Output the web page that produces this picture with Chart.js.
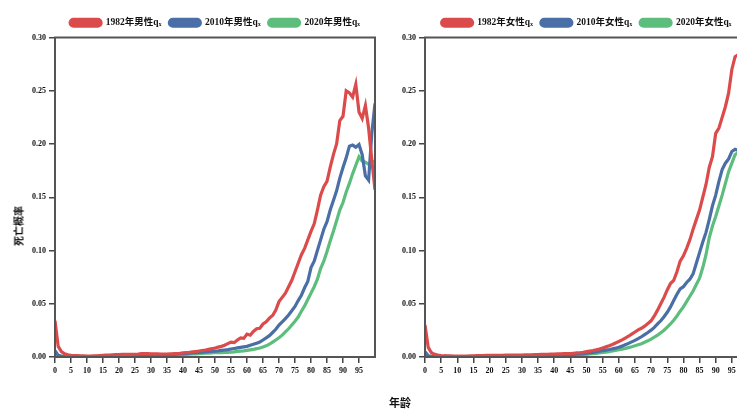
<!DOCTYPE html>
<html><head><meta charset="utf-8">
<script src="https://cdn.jsdelivr.net/npm/chart.js@4"></script>
<style>
html,body{margin:0;padding:0;width:737px;height:410px;overflow:hidden;background:#fff;}
#w1{position:absolute;left:0;top:0;width:385px;height:410px;}
#w2{position:absolute;left:380px;top:0;width:430px;height:410px;}
.ytitle{position:absolute;left:18px;top:226px;transform:translate(-50%,-50%) rotate(-90deg);font:bold 10px 'Noto Sans CJK SC';color:#111;white-space:nowrap;}
.xtitle{position:absolute;left:400px;top:402px;transform:translate(-50%,-50%);font:bold 11px 'Noto Sans CJK SC';color:#111;white-space:nowrap;}
</style></head>
<body>
<div id="w1"><canvas id="c1"></canvas></div>
<div id="w2"><canvas id="c2"></canvas></div>
<div class="ytitle">死亡概率</div>
<div class="xtitle">年龄</div>
<script>
const ages = [0,1,2,3,4,5,6,7,8,9,10,11,12,13,14,15,16,17,18,19,20,21,22,23,24,25,26,27,28,29,30,31,32,33,34,35,36,37,38,39,40,41,42,43,44,45,46,47,48,49,50,51,52,53,54,55,56,57,58,59,60,61,62,63,64,65,66,67,68,69,70,71,72,73,74,75,76,77,78,79,80,81,82,83,84,85,86,87,88,89,90,91,92,93,94,95,96,97,98,99,100];
const xTicks = [0,5,10,15,20,25,30,35,40,45,50,55,60,65,70,75,80,85,90,95];
const yTicks = [0,0.05,0.10,0.15,0.20,0.25,0.30];

const male1982 = [0.034,0.010,0.005,0.003,0.002,
0.0015,0.0013,0.0012,0.0011,0.0010,
0.0009,0.0009,0.0010,0.0011,0.0013,
0.0015,0.0017,0.0019,0.0021,0.0022,
0.0023,0.0024,0.0024,0.0025,0.0025,
0.0026,0.0028,0.0031,0.0032,0.0031,
0.0030,0.0030,0.0029,0.0027,0.0027,
0.0028,0.0030,0.0031,0.0033,0.0035,
0.0038,0.0041,0.0044,0.0048,0.0052,
0.0056,0.0061,0.0066,0.0072,0.0078,
0.0085,0.0093,0.0100,0.0110,0.0125,
0.0140,0.0135,0.0160,0.0180,0.0175,
0.0215,0.0205,0.0240,0.0265,0.0270,
0.0310,0.0330,0.0365,0.0390,0.0440,
0.052,0.056,0.060,0.066,0.072,
0.080,0.088,0.096,0.102,0.110,
0.118,0.125,0.138,0.152,0.160,
0.165,0.178,0.190,0.200,0.222,
0.226,0.250,0.248,0.244,0.256,
0.230,0.224,0.236,0.215,0.185,0.157];

const male2010 = [0.006,0.0015,0.0008,0.0006,0.0005,
0.0004,0.0004,0.0004,0.0004,0.0004,
0.0004,0.0004,0.0004,0.0005,0.0006,
0.0008,0.0009,0.0010,0.0011,0.0012,
0.0012,0.0012,0.0012,0.0012,0.0012,
0.0012,0.0013,0.0013,0.0014,0.0015,
0.0016,0.0017,0.0018,0.0019,0.0020,
0.0021,0.0023,0.0025,0.0027,0.0029,
0.0031,0.0033,0.0035,0.0038,0.0041,
0.0044,0.0046,0.0048,0.0050,0.0052,
0.0055,0.0058,0.0062,0.0066,0.0070,
0.0075,0.0080,0.0085,0.0090,0.0095,
0.0100,0.0110,0.0120,0.0130,0.0140,
0.0160,0.0180,0.0200,0.0230,0.0260,
0.0300,0.0330,0.0360,0.0395,0.0435,
0.0475,0.0530,0.0580,0.0650,0.0710,
0.0840,0.0900,0.1000,0.1100,0.1200,
0.1270,0.1380,0.1470,0.1560,0.1680,
0.1780,0.1870,0.1980,0.1990,0.1970,
0.1995,0.1900,0.1700,0.1660,0.2100,0.2380];

const male2020 = [0.003,0.0008,0.0005,0.0004,0.0003,
0.0003,0.0003,0.0003,0.0003,0.0003,
0.0003,0.0003,0.0003,0.0004,0.0005,
0.0006,0.0007,0.0008,0.0008,0.0009,
0.0009,0.0009,0.0009,0.0010,0.0010,
0.0010,0.0011,0.0011,0.0012,0.0012,
0.0013,0.0014,0.0014,0.0015,0.0016,
0.0017,0.0018,0.0019,0.0020,0.0021,
0.0023,0.0024,0.0026,0.0028,0.0030,
0.0031,0.0033,0.0035,0.0037,0.0039,
0.0040,0.0041,0.0042,0.0043,0.0044,
0.0045,0.0048,0.0052,0.0055,0.0058,
0.0062,0.0067,0.0072,0.0078,0.0085,
0.0093,0.0105,0.0120,0.0140,0.0160,
0.0180,0.0205,0.0235,0.0265,0.0300,
0.0335,0.0375,0.0430,0.0480,0.0540,
0.0600,0.0660,0.0730,0.0830,0.0900,
0.0990,0.1090,0.1180,0.1280,0.1380,
0.1450,0.1550,0.1630,0.1720,0.1800,
0.1880,0.1840,0.1830,0.1810,0.1840,0.1830];

const female1982 = [0.030,0.009,0.004,0.0025,0.0018,
0.0014,0.0012,0.0011,0.0010,0.0009,
0.0008,0.0008,0.0008,0.0009,0.0010,
0.0011,0.0012,0.0013,0.0014,0.0015,
0.0016,0.0016,0.0016,0.0016,0.0016,
0.0017,0.0017,0.0018,0.0018,0.0019,
0.0019,0.0020,0.0020,0.0021,0.0022,
0.0023,0.0024,0.0025,0.0026,0.0027,
0.0028,0.0029,0.0030,0.0031,0.0031,
0.0032,0.0035,0.0038,0.0040,0.0044,
0.0050,0.0055,0.0060,0.0067,0.0075,
0.0085,0.0095,0.0105,0.0118,0.0132,
0.0145,0.0160,0.0178,0.0195,0.0215,
0.0235,0.0255,0.0270,0.0290,0.0315,
0.0340,0.0385,0.0440,0.0500,0.0560,
0.0630,0.0690,0.0720,0.0800,0.0900,
0.0950,0.1020,0.1100,0.1200,0.1290,
0.1380,0.1500,0.1620,0.1780,0.1880,
0.2100,0.2150,0.2250,0.2350,0.2480,
0.2700,0.2820,0.2840,0.2800,0.2750,0.2700];

const female2010 = [0.005,0.0012,0.0007,0.0005,0.0004,
0.0003,0.0003,0.0003,0.0003,0.0003,
0.0003,0.0003,0.0003,0.0003,0.0004,
0.0004,0.0004,0.0005,0.0005,0.0005,
0.0005,0.0005,0.0005,0.0005,0.0006,
0.0006,0.0006,0.0006,0.0006,0.0007,
0.0007,0.0008,0.0008,0.0009,0.0010,
0.0011,0.0012,0.0013,0.0014,0.0015,
0.0016,0.0017,0.0018,0.0019,0.0020,
0.0022,0.0024,0.0026,0.0029,0.0032,
0.0035,0.0039,0.0043,0.0048,0.0054,
0.0060,0.0065,0.0070,0.0076,0.0083,
0.0092,0.0102,0.0115,0.0128,0.0142,
0.0156,0.0172,0.0190,0.0210,0.0230,
0.0252,0.0278,0.0310,0.0340,0.0378,
0.0420,0.0470,0.0530,0.0590,0.0640,
0.0660,0.0700,0.0730,0.0780,0.0880,
0.0980,0.1080,0.1170,0.1290,0.1420,
0.1520,0.1650,0.1760,0.1820,0.1860,
0.1930,0.1950,0.1940,0.1920,0.1900,0.1900];

const female2020 = [0.003,0.0007,0.0004,0.0003,0.0003,
0.0002,0.0002,0.0002,0.0002,0.0002,
0.0002,0.0002,0.0002,0.0002,0.0003,
0.0003,0.0003,0.0003,0.0003,0.0003,
0.0003,0.0003,0.0004,0.0004,0.0004,
0.0004,0.0004,0.0004,0.0005,0.0005,
0.0005,0.0006,0.0006,0.0007,0.0007,
0.0008,0.0008,0.0009,0.0010,0.0011,
0.0011,0.0012,0.0013,0.0014,0.0014,
0.0015,0.0017,0.0019,0.0021,0.0023,
0.0025,0.0028,0.0031,0.0034,0.0038,
0.0042,0.0046,0.0051,0.0056,0.0062,
0.0068,0.0074,0.0080,0.0088,0.0096,
0.0105,0.0115,0.0125,0.0138,0.0152,
0.0168,0.0186,0.0205,0.0228,0.0252,
0.0280,0.0310,0.0345,0.0385,0.0430,
0.0470,0.0520,0.0570,0.0620,0.0680,
0.0740,0.0840,0.0960,0.1120,0.1230,
0.1320,0.1420,0.1520,0.1630,0.1740,
0.1820,0.1900,0.1920,0.1920,0.1930,0.1930];

const maleLabels = ['1982年男性qₓ','2010年男性qₓ','2020年男性qₓ'];
const femaleLabels = ['1982年女性qₓ','2010年女性qₓ','2020年女性qₓ'];
const colors = ['#db4b4b','#4a6ea6','#5cbd7c'];

const serif = "'Liberation Serif','Noto Sans CJK SC',serif";

const framePlugin = {
  id:'frame',
  afterDraw(chart){
    const a = chart.chartArea, ctx = chart.ctx;
    ctx.save();
    ctx.strokeStyle = '#555';
    ctx.lineWidth = 2;
    ctx.strokeRect(a.left, a.top, a.right - a.left, a.bottom - a.top);
    ctx.restore();
  }
};

function makeChart(id, labels, series, yWidth, padRight){
  return new Chart(document.getElementById(id), {
    type:'line',
    data:{
      labels: ages,
      datasets: series.map((s,i)=>({
        label: labels[i], data: s,
        borderColor: colors[i], backgroundColor: colors[i],
        borderWidth: 3.2, pointRadius: 0, tension: 0, fill: false
      }))
    },
    options:{
      responsive:true, maintainAspectRatio:false, animation:false,
      layout:{padding:{left:0,right:padRight,top:10,bottom:33}},
      plugins:{
        tooltip:{enabled:false},
        legend:{
          display:true, position:'top', fullSize:false,
          labels:{
            boxWidth:31, boxHeight:7, useBorderRadius:true, borderRadius:3.5,
            padding:8, color:'#111',
            font:{family:serif, size:9.5, weight:'bold'}
          }
        }
      },
      scales:{
        x:{
          type:'linear', min:0, max:100,
          afterBuildTicks(s){ s.ticks = xTicks.map(v=>({value:v})); },
          afterFit(s){ s.height = 20; },
          grid:{display:true, drawOnChartArea:false, drawTicks:true, tickLength:6, color:'#444', lineWidth:1.5},
          border:{display:true, color:'#555', width:2},
          ticks:{color:'#111', padding:3, maxRotation:0, autoSkip:false, font:{family:serif, size:8, weight:'bold'}}
        },
        y:{
          min:0, max:0.30,
          afterBuildTicks(s){ s.ticks = yTicks.map(v=>({value:v})); },
          afterFit(s){ s.width = yWidth; },
          grid:{display:true, drawOnChartArea:false, drawTicks:true, tickLength:6, color:'#444', lineWidth:1.5},
          border:{display:true, color:'#555', width:2},
          ticks:{color:'#111', padding:3, font:{family:serif, size:8, weight:'bold'}, callback:v=>Number(v).toFixed(2)}
        }
      }
    },
    plugins:[framePlugin]
  });
}

makeChart('c1', maleLabels, [male1982, male2010, male2020], 55, 10);
makeChart('c2', femaleLabels, [female1982, female2010, female2020], 45, 62);
</script>
</body></html>
